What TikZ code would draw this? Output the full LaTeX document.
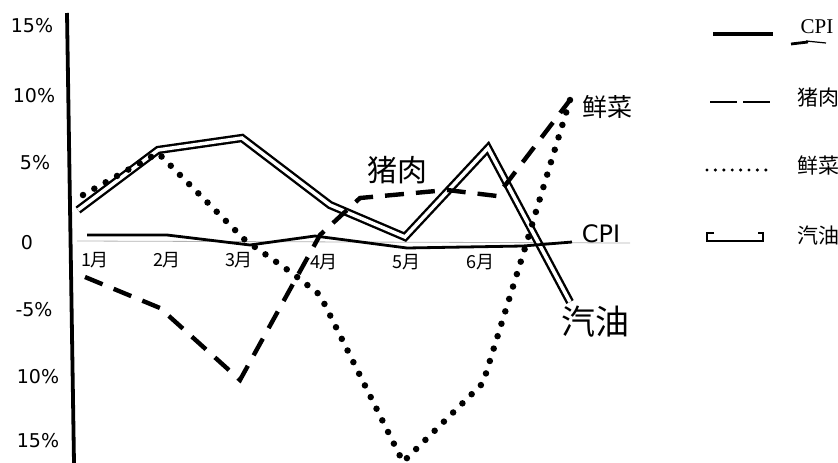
\documentclass[tikz,border=0pt]{standalone}
\usepackage{fontspec}
\setmainfont{Liberation Serif}
\newfontfamily\cjk{Noto Sans CJK SC}
\newfontfamily\axisfont{DejaVu Sans}
\usetikzlibrary{positioning}
\tikzset{
  tick label/.style={
    font=\axisfont\fontsize{19}{19}\selectfont,
    inner sep=0pt
  },
  month label/.style={
    font=\cjk\fontsize{18}{18}\selectfont,
    inner sep=0pt
  },
  hand label/.style={
    font=\cjk\fontsize{28}{28}\selectfont,
    inner sep=1pt
  },
}
\tikzstyle{legend text} = [font=\cjk\fontsize{21}{21}\selectfont, inner sep=0pt]
\tikzstyle{cpi line} = [line width=2.8pt, line join=round]
\tikzstyle{pork line} = [line width=4.4pt, dash pattern=on 19pt off 12pt]
\tikzstyle{veg line} = [line width=6.5pt, line cap=round, dash pattern=on 0pt off 13pt]
\tikzstyle{gas line} = [draw=black, double=white, double distance=3.5pt, line width=2.4pt, line join=miter]

\begin{document}
\begin{tikzpicture}[x=1pt, y=-1pt]
        \useasboundingbox (0,0) rectangle (838,463);

        % axes
        \draw [line width=3.8pt] (67,13) -- (74,463);
        \draw [gray!60, line width=0.8pt] (77,241) -- (630,243);

        % y labels
        \node [tick label] (y15) at (32,26) {15\%};
        \node [tick label] (y10) at (34,96) {10\%};
        \node [tick label] (y5) at (35,163) {5\%};
        \node [tick label] (y0) at (27,243) {0};
        \node [tick label] (ym5) at (34,310) {-5\%};
        \node [tick label] (ym10) at (38,377) {10\%};
        \node [tick label] (ym15) at (38,441) {15\%};

        % months
        \node [month label] (m1) at (95,260) {1月};
        \node [month label] (m2) at (167,260) {2月};
        \node [month label] (m3) at (239,260) {3月};
        \node [month label] (m4) at (324,262) {4月};
        \node [month label] (m5) at (406,262) {5月};
        \node [month label] (m6) at (480,262) {6月};

        % series
        \draw [gas line] (78,210) -- (158,150) -- (242,138) -- (330,205) -- (405,237) -- (488,148) -- (570,302);
        \draw [cpi line] (87,235) -- (167,235) -- (250,245) -- (315,236) -- (407,248) -- (523,246) -- (572,242);
        \draw [pork line] (85,277) -- (160,308) -- (240,380) -- (320,235) -- (360,198) -- (447,190) -- (497,196) -- (570,100);
        \draw [veg line] (83,195) -- (158,153) -- (245,240) -- (292,273) -- (320,295) -- (403,462) -- (483,383) -- (525,248) -- (551,162) -- (570,100);

        % labels on the curves
        \node [hand label, fill=white, font=\cjk\fontsize{30}{30}\selectfont] (porklbl) at (397,170) {猪肉};
        \node [hand label, font=\cjk\fontsize{25}{25}\selectfont] (veglbl) at (607,107) {鲜菜};
        \node [hand label, font=\axisfont\fontsize{24}{24}\selectfont] (cpilbl) at (601,234) {CPI};
        \node [hand label, font=\cjk\fontsize{34}{34}\selectfont] (gaslbl) at (595,322) {汽油};

        % legend
        \coordinate (l1a) at (713,34);
        \coordinate (l1b) at (773,34);
        \draw [line width=3.2pt] (l1a) -- (l1b);
        \node [font=\fontsize{21}{21}\selectfont, inner sep=0pt] (lcpi) at (817,27) {CPI};
        \draw [line width=2.8pt] (791,44) -- (808,42);
        \draw [line width=1.2pt] (806,41) -- (826,43);

        \coordinate (l2a) at (710,102);
        \coordinate (l2b) at (772,102);
        \draw [line width=2.8pt, dash pattern=on 27pt off 6pt] (l2a) -- (l2b);
        \node [legend text] (lpork) at (818,98) {猪肉};

        \coordinate (l3a) at (707,170);
        \coordinate (l3b) at (766,170);
        \draw [line width=3.4pt, line cap=round, dash pattern=on 0pt off 8.4pt] (l3a) -- (l3b);
        \node [legend text] (lveg) at (818,166) {鲜菜};

        \coordinate (l4a) at (707,233);
        \coordinate (l4b) at (763,233);
        \draw [line width=1.4pt] (714,233) -- (l4a) -- (707,241) -- (763,241) -- (l4b) -- (758,233);
        \node [legend text] (lgas) at (818,236) {汽油};
\end{tikzpicture}
\end{document}
